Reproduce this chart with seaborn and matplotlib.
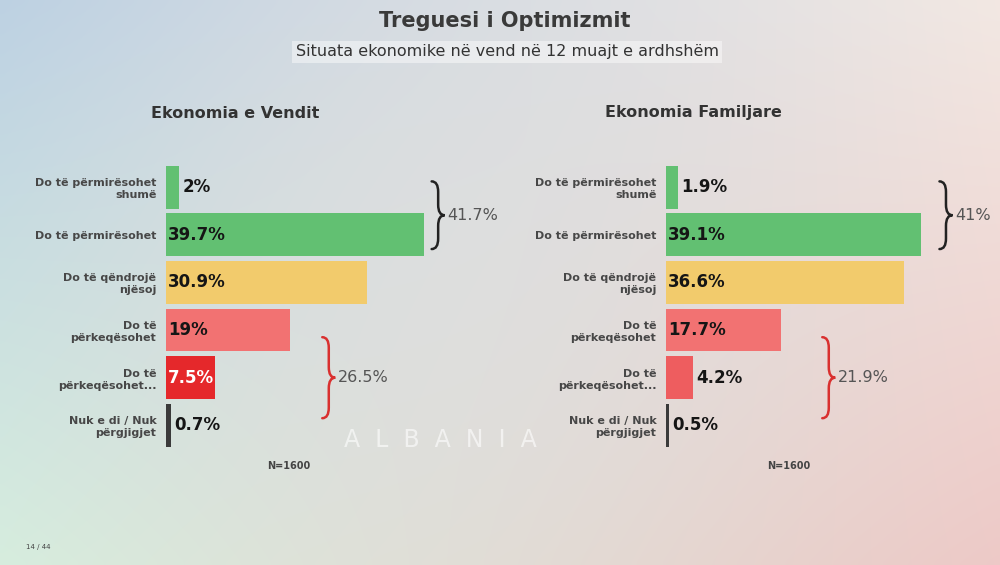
import numpy as np
import pandas as pd
import matplotlib.pyplot as plt
import matplotlib.patches as mpatches
from matplotlib.path import Path
import seaborn as sns

# ── Data ───────────────────────────────────────────────────────────────────────
CATEGORIES = [
    "Do të përmirësohet\nshumë",
    "Do të përmirësohet",
    "Do të qëndrojë\nnjësoj",
    "Do të\npërkeqësohet",
    "Do të\npërkeqësohet...",
    "Nuk e di / Nuk\npërgjigjet",
]
VENDIT_VALUES = [2.0, 39.7, 30.9, 19.0, 7.5, 0.7]
FAMILJARE_VALUES = [1.9, 39.1, 36.6, 17.7, 4.2, 0.5]
VENDIT_LABELS = ["2%", "39.7%", "30.9%", "19%", "7.5%", "0.7%"]
FAMILJARE_LABELS = ["1.9%", "39.1%", "36.6%", "17.7%", "4.2%", "0.5%"]
VENDIT_COLORS = ["#62c072", "#62c072", "#f2cb6c", "#f27272", "#e5282b", "#3a3a3a"]
FAMILJARE_COLORS = ["#62c072", "#62c072", "#f2cb6c", "#f27272", "#ee5d5f", "#3a3a3a"]
# groups: (first row, last row, summary label, brace colour, brace x)
VENDIT_GROUPS = [(0, 1, "41.7%", "#222222", 40.8), (3, 4, "26.5%", "#d9302f", 24.0)]
FAMILJARE_GROUPS = [(0, 1, "41%", "#222222", 42.0), (3, 4, "21.9%", "#d9302f", 24.0)]

TITLE = "Treguesi i Optimizmit"
SUBTITLE = "Situata ekonomike në vend në 12 muajt e ardhshëm"
N_TEXT = "N=1600"

FONT = ["DejaVu Sans"]

sns.set_theme(style="white")
plt.rcParams["font.family"] = FONT


def draw_brace(ax, x, y0, y1, w, color):
    ym = (y0 + y1) / 2
    q = 0.22
    verts = [
        (x, y0), (x + w / 2, y0), (x + w / 2, y0 + q),
        (x + w / 2, ym - q),
        (x + w / 2, ym), (x + w, ym),
        (x + w / 2, ym), (x + w / 2, ym + q),
        (x + w / 2, y1 - q),
        (x + w / 2, y1), (x, y1),
    ]
    codes = [Path.MOVETO, Path.CURVE3, Path.CURVE3, Path.LINETO,
             Path.CURVE3, Path.CURVE3, Path.CURVE3, Path.CURVE3,
             Path.LINETO, Path.CURVE3, Path.CURVE3]
    patch = mpatches.PathPatch(Path(verts, codes), fill=False, edgecolor=color,
                               lw=1.8, capstyle="round", clip_on=False,
                               transform=ax.transData, zorder=5)
    ax.add_patch(patch)
    return x + w, ym


def draw_panel(ax, values, labels, colors, groups):
    df = pd.DataFrame({"cat": CATEGORIES, "val": values})
    sns.barplot(data=df, x="val", y="cat", hue="cat", palette=colors,
                legend=False, orient="h", width=0.9, saturation=1,
                linewidth=0, ax=ax)
    ax.set_facecolor("none")
    ax.set_xlim(0, 45)
    ax.set_ylim(5.5, -0.5)
    ax.set_xlabel("")
    ax.set_ylabel("")
    ax.set_xticks([])
    for s in ax.spines.values():
        s.set_visible(False)
    ax.tick_params(axis="y", length=0, pad=7)
    for t in ax.get_yticklabels():
        t.set_fontsize(8)
        t.set_fontweight("bold")
        t.set_color("#474747")
        t.set_multialignment("right")
        t.set_linespacing(1.25)

    for i, (v, lab) in enumerate(zip(values, labels)):
        inside = v >= 5
        xpos = 0.3 if inside else v + 0.5
        col = "white" if colors[i] == "#e5282b" else "#151515"
        ax.text(xpos, i, lab, ha="left", va="center", fontsize=12,
                fontweight="bold", color=col, zorder=6)

    for r0, r1, lab, col, bx in groups:
        if r0 == 0:
            y0, y1 = r0 - 0.12, r1 + 0.3
        else:
            y0, y1 = r0 + 0.15, r1 + 0.85
        tip, ym = draw_brace(ax, bx, y0, y1, 2.0, col)
        ax.text(tip + 0.4, ym, lab, ha="left", va="center", fontsize=11.5,
                color="#555555", zorder=6)

    ax.text(0.42, -0.06, N_TEXT, transform=ax.transAxes, ha="center",
            va="center", fontsize=7, fontweight="bold", color="#444444")


fig = plt.figure(figsize=(10, 5.65), dpi=100)

# soft gradient background
bg = fig.add_axes([0, 0, 1, 1], zorder=-10)
h, w = 113, 200
yy, xx = np.mgrid[0:1:h * 1j, 0:1:w * 1j]
tl = np.array([0.74, 0.82, 0.89])
bl = np.array([0.84, 0.93, 0.87])
tr = np.array([0.95, 0.91, 0.89])
br = np.array([0.93, 0.79, 0.78])
img = ((1 - xx)[..., None] * ((1 - yy)[..., None] * tl + yy[..., None] * bl)
       + xx[..., None] * ((1 - yy)[..., None] * tr + yy[..., None] * br))
centre = np.exp(-(((xx - 0.45) / 0.28) ** 2 + ((yy - 0.5) / 0.6) ** 2))[..., None]
img = img * (1 - 0.5 * centre) + np.array([0.88, 0.88, 0.88]) * 0.5 * centre
bg.imshow(img, aspect="auto", extent=[0, 1, 0, 1], interpolation="bicubic")
bg.set_xlim(0, 1)
bg.set_ylim(0, 1)
bg.axis("off")

ax1 = fig.add_axes([0.166, 0.205, 0.293, 0.506])
ax2 = fig.add_axes([0.666, 0.205, 0.293, 0.506])
draw_panel(ax1, VENDIT_VALUES, VENDIT_LABELS, VENDIT_COLORS, VENDIT_GROUPS)
draw_panel(ax2, FAMILJARE_VALUES, FAMILJARE_LABELS, FAMILJARE_COLORS, FAMILJARE_GROUPS)

fig.text(0.505, 0.962, TITLE, ha="center", va="center", fontsize=15,
         fontweight="bold", color="#3a3a3a")
fig.text(0.507, 0.908, SUBTITLE, ha="center", va="center", fontsize=11.5,
         color="#333333",
         bbox=dict(boxstyle="square,pad=0.2", facecolor="white", alpha=0.45,
                   edgecolor="none"))
fig.text(0.235, 0.8, "Ekonomia e Vendit", ha="center", va="center",
         fontsize=11.5, fontweight="bold", color="#333333")
fig.text(0.693, 0.8, "Ekonomia Familjare", ha="center", va="center",
         fontsize=11.5, fontweight="bold", color="#333333")

# faint watermark word between the panels
fig.text(0.44, 0.222, "A  L  B  A  N  I  A", ha="center", va="center",
         fontsize=17, color="white", alpha=0.6, zorder=20)

fig.text(0.026, 0.032, "14 / 44", ha="left", va="center", fontsize=5,
         color="#444444")

fig.savefig("out.png", dpi=100)
